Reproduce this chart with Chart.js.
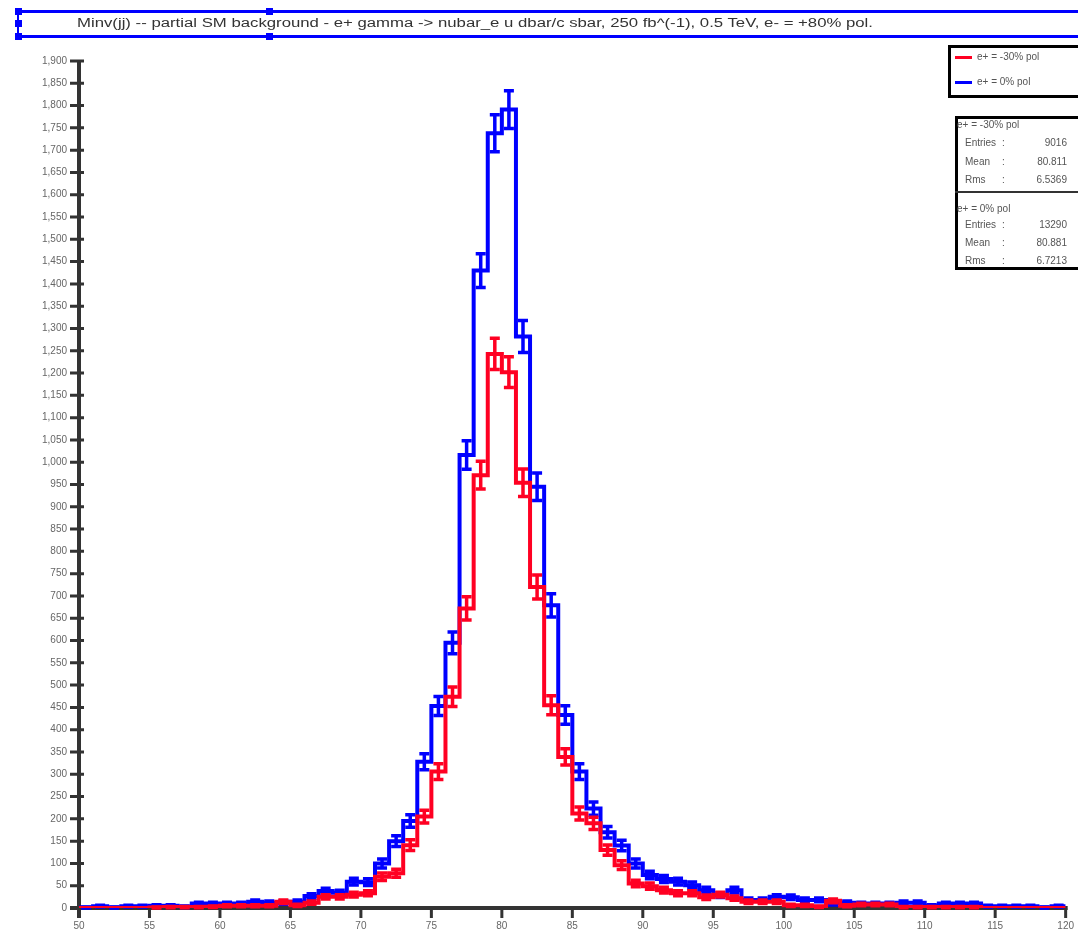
<!DOCTYPE html>
<html>
<head>
<meta charset="utf-8">
<script src="https://cdn.jsdelivr.net/npm/chart.js@4.4.1/dist/chart.umd.min.js"></script>
<style>
  body { margin: 0; background: #fff; overflow: hidden; font-family: "Liberation Sans", Arial, sans-serif; }
  #wrap { position: relative; width: 1078px; height: 931px; }
  #c { position: absolute; left: 0; top: 0; }
  .abs { position: absolute; }
  .hline { position: absolute; background: #0000ff; }
  .handle { position: absolute; width: 7px; height: 7px; background: #0000ff; }
  .txt { position: absolute; white-space: nowrap; font-size: 10px; color: #555; line-height: 12px; }
  .box { position: absolute; border: 3px solid #000; box-sizing: border-box; background: #fff; }
</style>
</head>
<body>
<div id="wrap">
  <canvas id="c" width="1078" height="931"></canvas>

  <!-- title pave (selected, with blue handles) -->
  <div class="hline" style="left:18px; top:10px; width:1060px; height:3px;"></div>
  <div class="hline" style="left:18px; top:35px; width:1060px; height:3px;"></div>
  <div class="hline" style="left:17px; top:10px; width:2px; height:28px;"></div>
  <div class="handle" style="left:15px; top:8px;"></div>
  <div class="handle" style="left:15px; top:20px;"></div>
  <div class="handle" style="left:15px; top:33px;"></div>
  <div class="handle" style="left:266px; top:8px;"></div>
  <div class="handle" style="left:266px; top:33px;"></div>
  <span id="titleText" class="txt" style="left:77px; top:17px; font-size:12px; color:#333;">Minv(jj) -- partial SM background - e+ gamma -&gt; nubar_e u dbar/c sbar, 250 fb^(-1), 0.5 TeV, e- = +80% pol.</span>

  <!-- legend -->
  <div class="box" style="left:948px; top:45px; width:140px; height:53px;"></div>
  <div class="abs" style="left:955px; top:56px; width:17px; height:3px; background:#ff0022;"></div>
  <span class="txt" style="left:977px; top:51px;">e+ = -30% pol</span>
  <div class="abs" style="left:955px; top:81px; width:17px; height:3px; background:#0000ff;"></div>
  <span class="txt" style="left:977px; top:76px;">e+ = 0% pol</span>

  <!-- stats boxes -->
  <div class="box" style="left:955px; top:116px; width:140px; height:154px;"></div>
  <div class="abs" style="left:955px; top:191px; width:123px; height:2px; background:#333;"></div>
  <div id="stats"></div>
</div>

<script>
// histogram binning (GeV)
const xMin = 50;
const xMax = 120;
const binWidth = 1;

// tick positions
const xTicks = [50, 55, 60, 65, 70, 75, 80, 85, 90, 95, 100, 105, 110, 115, 120];
const yTicks = [0, 50, 100, 150, 200, 250, 300, 350, 400, 450, 500, 550, 600, 650, 700, 750,
  800, 850, 900, 950, 1000, 1050, 1100, 1150, 1200, 1250, 1300, 1350, 1400, 1450, 1500,
  1550, 1600, 1650, 1700, 1750, 1800, 1850, 1900];

// bin contents, one per 1 GeV bin from 50 to 120
const redCounts = [
  0, 0, 0, 0, 0, 1, 2, 2, 2, 3,
  5, 5, 5, 5, 14, 6, 12, 25, 25, 30,
  33, 70, 78, 141, 205, 306, 474, 672, 971, 1243,
  1202, 954, 720, 455, 339, 212, 190, 130, 96, 55,
  49, 40, 33, 33, 24, 30, 22, 14, 14, 14,
  6, 6, 3, 16, 5, 8, 8, 8, 2, 2,
  2, 2, 2, 2, 0, 0, 0, 0, 0, 0
];
const blueCounts = [
  1, 4, 1, 4, 4, 5, 5, 3, 10, 10,
  10, 10, 14, 12, 12, 14, 27, 38, 34, 59,
  58, 100, 150, 195, 328, 453, 595, 1016, 1430, 1738,
  1791, 1282, 945, 679, 433, 306, 223, 170, 140, 100,
  74, 65, 59, 51, 40, 29, 40, 18, 18, 25,
  24, 18, 18, 10, 12, 10, 10, 10, 12, 12,
  5, 10, 10, 10, 4, 4, 4, 4, 1, 4
];

// stats box texts
const statNames = ["e+ = -30% pol", "e+ = 0% pol"];
const statEntries = ["9016", "13290"];
const statMeans = ["80.811", "80.881"];
const statRms = ["6.5369", "6.7213"];

const redColor = "#ff0022";
const blueColor = "#0000ff";

// step points: each bin's value starts at its low edge
function stepPoints(counts) {
  const pts = counts.map((n, i) => ({ x: xMin + i * binWidth, y: n }));
  pts.push({ x: xMax, y: counts[counts.length - 1] });
  return pts;
}

// sqrt(N) error bars with caps, drawn right after each histogram
const errorBars = {
  id: "errorBars",
  afterDatasetDraw(chart, args) {
    const ds = chart.data.datasets[args.index];
    const ctx = chart.ctx;
    const x = chart.scales.x;
    const y = chart.scales.y;
    ctx.save();
    ctx.strokeStyle = ds.borderColor;
    ctx.lineWidth = 3.5;
    ds.counts.forEach((n, i) => {
      if (n <= 0) return;
      const err = Math.sqrt(n);
      const px = x.getPixelForValue(xMin + (i + 0.5) * binWidth);
      const top = y.getPixelForValue(n + err);
      const bot = y.getPixelForValue(Math.max(0, n - err));
      ctx.beginPath();
      ctx.moveTo(px, top); ctx.lineTo(px, bot);
      ctx.moveTo(px - 5, top); ctx.lineTo(px + 5, top);
      ctx.moveTo(px - 5, bot); ctx.lineTo(px + 5, bot);
      ctx.stroke();
    });
    ctx.restore();
  }
};

// ROOT-like axes: thick lines, ticks crossing the y axis, ticks below the x axis
const axesLines = {
  id: "axesLines",
  beforeDatasetsDraw(chart) {
    const { ctx, chartArea, scales } = chart;
    ctx.save();
    ctx.strokeStyle = "#333";
    ctx.lineWidth = 3;
    ctx.beginPath();
    yTicks.forEach(v => {
      const py = scales.y.getPixelForValue(v);
      ctx.moveTo(chartArea.left - 9, py);
      ctx.lineTo(chartArea.left + 5, py);
    });
    xTicks.forEach(v => {
      const px = scales.x.getPixelForValue(v);
      ctx.moveTo(px, chartArea.bottom);
      ctx.lineTo(px, chartArea.bottom + 10);
    });
    ctx.stroke();
    ctx.lineWidth = 4;
    ctx.beginPath();
    ctx.moveTo(chartArea.left, chartArea.top);
    ctx.lineTo(chartArea.left, chartArea.bottom + 10);
    ctx.moveTo(chartArea.left - 9, chartArea.bottom);
    ctx.lineTo(chartArea.right + 2, chartArea.bottom);
    ctx.stroke();
    ctx.restore();
  }
};

const tickFont = { family: "Liberation Sans", size: 10 };

new Chart(document.getElementById("c"), {
  type: "line",
  data: {
    datasets: [
      {
        label: statNames[0],
        data: stepPoints(redCounts),
        counts: redCounts,
        borderColor: redColor,
        borderWidth: 4,
        stepped: "before",
        pointRadius: 0,
        fill: false
      },
      {
        label: statNames[1],
        data: stepPoints(blueCounts),
        counts: blueCounts,
        borderColor: blueColor,
        borderWidth: 4,
        stepped: "before",
        pointRadius: 0,
        fill: false
      }
    ]
  },
  options: {
    responsive: false,
    animation: false,
    layout: { padding: { top: 61, right: 10, left: 0, bottom: 0 } },
    plugins: {
      legend: { display: false },
      title: { display: false },
      tooltip: { enabled: false }
    },
    scales: {
      x: {
        type: "linear",
        min: xMin,
        max: xMax,
        grid: { display: false },
        border: { display: false },
        afterBuildTicks: s => { s.ticks = xTicks.map(v => ({ value: v })); },
        afterFit: s => { s.height = 23; },
        ticks: {
          autoSkip: false,
          maxRotation: 0,
          padding: 4,
          color: "#666",
          font: tickFont,
          callback: v => String(v)
        }
      },
      y: {
        min: 0,
        max: 1900,
        grid: { display: false },
        border: { display: false },
        afterBuildTicks: s => { s.ticks = yTicks.map(v => ({ value: v })); },
        afterFit: s => { s.width = 79; },
        ticks: {
          autoSkip: false,
          padding: 4,
          color: "#666",
          font: tickFont,
          callback: v => v.toLocaleString("en-US")
        }
      }
    }
  },
  plugins: [axesLines, errorBars]
});

// stats box rows
const stats = document.getElementById("stats");
function addText(text, left, centerY, right) {
  const s = document.createElement("span");
  s.className = "txt";
  s.textContent = text;
  s.style.top = (centerY - 6) + "px";
  if (right) {
    s.style.right = (1078 - right) + "px";
  } else {
    s.style.left = left + "px";
  }
  stats.appendChild(s);
}
const rowY = [[125, 143, 162, 180], [209, 225, 243, 261]];
statNames.forEach((name, k) => {
  const r = rowY[k];
  addText(name, 957, r[0]);
  addText("Entries", 965, r[1]);
  addText(":", 1002, r[1]);
  addText(statEntries[k], 0, r[1], 1067);
  addText("Mean", 965, r[2]);
  addText(":", 1002, r[2]);
  addText(statMeans[k], 0, r[2], 1067);
  addText("Rms", 965, r[3]);
  addText(":", 1002, r[3]);
  addText(statRms[k], 0, r[3], 1067);
});

// squeeze the title to the width it takes in the picture
const title = document.getElementById("titleText");
const w = title.getBoundingClientRect().width;
title.style.transformOrigin = "left center";
title.style.transform = "scaleX(" + (796 / w) + ")";
</script>
</body>
</html>
